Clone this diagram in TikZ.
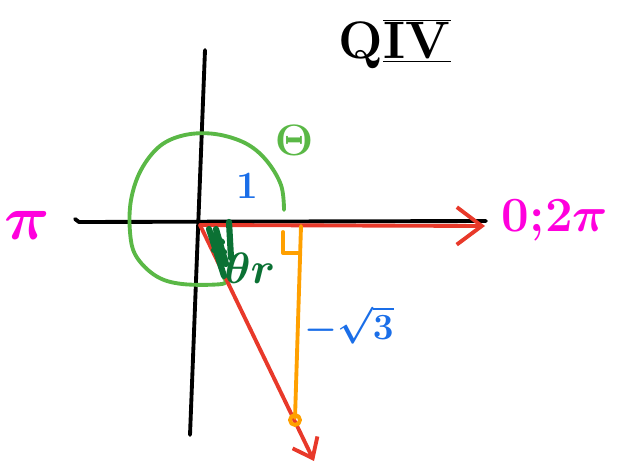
\documentclass[tikz,border=0pt]{standalone}
\usepackage{fix-cm}
\usetikzlibrary{arrows.meta}
\definecolor{penred}{HTML}{E8392A}
\definecolor{pengreen}{HTML}{5AB846}
\definecolor{pendark}{HTML}{0B7134}
\definecolor{penblue}{HTML}{1A6EE8}
\definecolor{penpink}{HTML}{FF00DD}
\definecolor{penorange}{HTML}{FFA000}
\begin{document}
\begin{tikzpicture}[x=0.02cm,y=-0.02cm,
pen/.style={line width=2.2pt, line cap=round, line join=round},
ax/.style={pen, black},
rd/.style={pen, penred},
gr/.style={pen, pengreen},
og/.style={pen, penorange},
lb/.style={inner sep=0pt}
]
\useasboundingbox (0,0) rectangle (621,465);
% axes
\coordinate (xl) at (75,219);
\coordinate (xr) at (486,221);
\coordinate (yt) at (205,50);
\coordinate (yb) at (190,435);
\coordinate (O) at (200,225);
\draw[ax] (xl) -- ++(4,3) -- (xr);
\draw[ax] (yt) -- (yb);
% unit circle, green
\draw[gr] plot[smooth, tension=0.6] coordinates {(284,210) (281,185) (266,160) (245,143) (215,134) (185,135) (160,146) (141,170) (131,200) (130,232) (136,256) (156,276) (182,284) (222,284) (224,278)};
% terminal side and axis, red
\coordinate (xe) at (485,226);
\coordinate (P) at (314,461);
\draw[rd, -{Straight Barb[length=5mm, width=7.5mm, line width=2.2pt]}] (O) -- (xe);
\draw[rd, -{Straight Barb[length=3.5mm, width=5.5mm, line width=2.2pt]}] (O) -- (P);
% legs, orange
\coordinate (A) at (301,226);
\coordinate (B) at (295,418);
\draw[og] (A) -- (B);
\draw[og] (B) ++(0,2) circle[radius=5];
\draw[og] (283,232) -- (283,253) -- (300,253);
% reference angle hatch
\draw[pen, pendark, line width=3.5pt] (209,229) -- (224,276) (216,229) -- (226,264) (229,222) -- (231,258) (212,236) -- (222,242) (214,250) -- (224,252);
% labels
\node[lb, text=black, font=\fontsize{30}{30}\selectfont\bfseries\boldmath] (quad) at (395,44) {Q$\overline{\underline{\mathrm{IV}}}$};
\node[lb, text=pengreen, font=\fontsize{25}{25}\selectfont\boldmath] (rot) at (294,140) {$\Theta$};
\node[lb, text=penblue, font=\fontsize{22}{22}\selectfont\bfseries] (one) at (247,186) {1};
\node[lb, text=penpink, font=\fontsize{36}{36}\selectfont\boldmath] (pi) at (27,225) {$\pi$};
\node[lb, text=penpink, font=\fontsize{28}{28}\selectfont\bfseries\boldmath] (zero) at (555,220) {0;2$\pi$};
\node[lb, text=penblue, font=\fontsize{21}{21}\selectfont\bfseries\boldmath] (opp) at (349,325) {$-\sqrt{3}$};
\node[lb, text=pendark, font=\fontsize{25}{25}\selectfont\boldmath] (ref) at (250,268) {$\theta r$};
\end{tikzpicture}
\end{document}
